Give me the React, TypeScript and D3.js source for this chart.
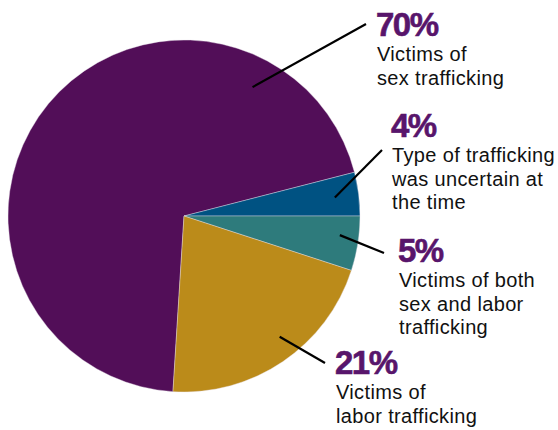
import { useEffect, useRef } from 'react';
import * as d3 from 'd3';

// slice data, clockwise from the top of the pie
const categories = ['sex', 'uncertain', 'both', 'labor'];
const values = [70, 4, 5, 21];
const percentLabels = ['70%', '4%', '5%', '21%'];
const descriptions = [
  ['Victims of', 'sex trafficking'],
  ['Type of trafficking', 'was uncertain at', 'the time'],
  ['Victims of both', 'sex and labor', 'trafficking'],
  ['Victims of', 'labor trafficking'],
];
const colors = ['#520e58', '#005282', '#2e7b7c', '#bb8b1a'];

// label placement: leader start (angle deg, radius), leader end, text anchor
const layout = [
  { angle: 28, r: 146, end: [366, 24], tx: 376, ty: 36 },
  { angle: 83, r: 152, end: [382, 150], tx: 391, ty: 137 },
  { angle: 97, r: 157, end: [384, 253], tx: 398, ty: 262 },
  { angle: 141.6, r: 154, end: [325, 363], tx: 335, ty: 374 },
];

const width = 558;
const height = 430;

const App = () => {
  const svgRef = useRef<SVGSVGElement | null>(null);

  useEffect(() => {
    const svg = d3.select(svgRef.current);
    svg.selectAll('*').remove();

    const cx = 184;
    const cy = 216;
    const radius = 176;
    const start = ((75.6 - 252) * Math.PI) / 180;

    const pie = d3.pie<number>()
      .sort(null)
      .value((d) => d)
      .startAngle(start)
      .endAngle(start + 2 * Math.PI);

    const arc = d3.arc<d3.PieArcDatum<number>>()
      .innerRadius(0)
      .outerRadius(radius);

    const g = svg.append('g').attr('transform', `translate(${cx},${cy})`);

    g.selectAll('path')
      .data(pie(values))
      .enter()
      .append('path')
      .attr('d', arc)
      .attr('fill', (_, i) => colors[i])
      .attr('stroke', '#e8e0ea')
      .attr('stroke-width', 0.4)
      .attr('class', (_, i) => categories[i]);

    // leader lines
    layout.forEach((l) => {
      const a = (l.angle * Math.PI) / 180;
      svg.append('line')
        .attr('x1', cx + l.r * Math.sin(a))
        .attr('y1', cy - l.r * Math.cos(a))
        .attr('x2', l.end[0])
        .attr('y2', l.end[1])
        .attr('stroke', '#000')
        .attr('stroke-width', 2.2);
    });

    // labels
    layout.forEach((l, i) => {
      svg.append('text')
        .attr('x', l.tx)
        .attr('y', l.ty)
        .attr('fill', '#58156b')
        .attr('stroke', '#58156b')
        .attr('stroke-width', 0.6)
        .attr('font-family', '"Liberation Sans", Arial, sans-serif')
        .attr('font-weight', 'bold')
        .attr('font-size', 33)
        .attr('letter-spacing', -1.5)
        .text(percentLabels[i]);

      const t = svg.append('text')
        .attr('font-family', '"Liberation Sans", Arial, sans-serif')
        .attr('font-size', 20)
        .attr('letter-spacing', 0.35)
        .attr('fill', '#111');
      descriptions[i].forEach((line, j) => {
        t.append('tspan')
          .attr('x', l.tx + 1)
          .attr('y', l.ty + 25 + j * 23.5)
          .text(line);
      });
    });
  }, []);

  return (
    <svg
      ref={svgRef}
      width={width}
      height={height}
      style={{ position: 'absolute', left: 0, top: 0, background: '#fff' }}
    />
  );
};

export default App;
